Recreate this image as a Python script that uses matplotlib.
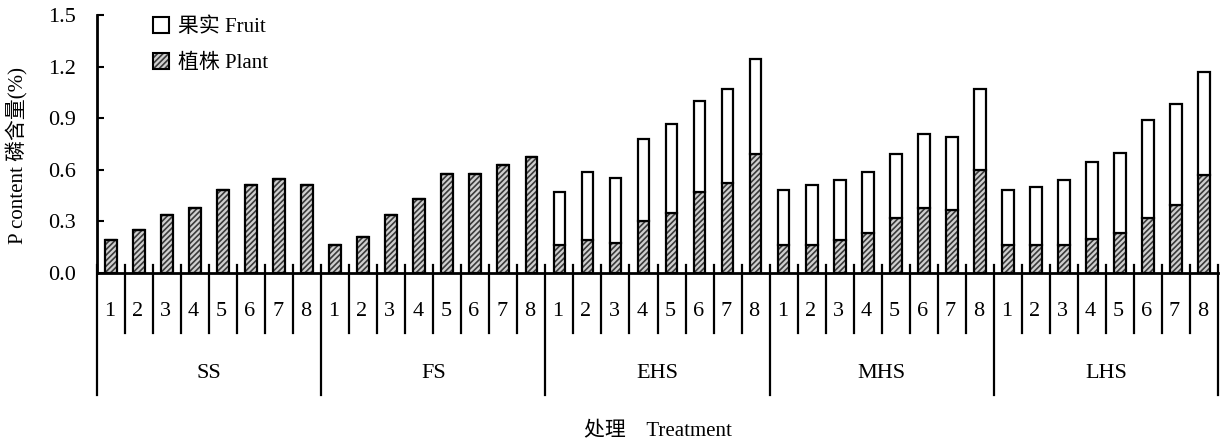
import matplotlib
matplotlib.use("Agg")
import matplotlib.pyplot as plt
from matplotlib.patches import Patch
from matplotlib.legend_handler import HandlerTuple
import matplotlib.transforms as mtransforms
import numpy as np

plt.rcParams['font.family'] = ['Liberation Serif', 'Noto Sans CJK SC', 'DejaVu Sans']
plt.rcParams['hatch.linewidth'] = 1.2

groups = ["SS", "FS", "EHS", "MHS", "LHS"]
sub_labels = ["1", "2", "3", "4", "5", "6", "7", "8"]

# plant P content (%), hatched lower segment
plant = [0.19, 0.25, 0.34, 0.38, 0.48, 0.51, 0.545, 0.51,
         0.16, 0.21, 0.34, 0.43, 0.575, 0.575, 0.63, 0.675,
         0.16, 0.19, 0.175, 0.305, 0.35, 0.47, 0.525, 0.69,
         0.16, 0.16, 0.19, 0.235, 0.32, 0.38, 0.365, 0.60,
         0.16, 0.16, 0.16, 0.20, 0.235, 0.32, 0.395, 0.57]
# total (plant + fruit)
total = [0.19, 0.25, 0.34, 0.38, 0.48, 0.51, 0.545, 0.51,
         0.16, 0.21, 0.34, 0.43, 0.575, 0.575, 0.63, 0.675,
         0.47, 0.585, 0.555, 0.78, 0.865, 1.0, 1.07, 1.245,
         0.48, 0.51, 0.54, 0.585, 0.69, 0.81, 0.79, 1.07,
         0.48, 0.50, 0.54, 0.645, 0.70, 0.89, 0.98, 1.17]
fruit = [t - p for t, p in zip(total, plant)]

W, H = 1227, 443
fig = plt.figure(figsize=(W / 100, H / 100), dpi=100)
left, right, top, bottom = 97, 1218, 15, 273
ax = fig.add_axes([left / W, (H - bottom) / H, (right - left) / W, (bottom - top) / H])

x = np.arange(len(plant))
bw = 0.42
hatch_face = '#d0d0d0'
hatch_col = '#3a3a3a'
ax.bar(x, plant, bw, color=hatch_face, edgecolor=hatch_col, hatch='//////', linewidth=0, zorder=2)
ax.bar(x, plant, bw, fill=False, edgecolor='black', linewidth=1.6, zorder=3)
ax.bar(x, fruit, bw, bottom=plant, color='white', edgecolor='black', linewidth=1.6, zorder=3)

ax.set_xlim(-0.5, len(plant) - 0.5)
ax.set_ylim(0, 1.5)
ax.set_yticks([0.0, 0.3, 0.6, 0.9, 1.2, 1.5])
ax.set_yticklabels([f"{v:.1f}" for v in [0.0, 0.3, 0.6, 0.9, 1.2, 1.5]])
ax.tick_params(axis='y', direction='in', length=5, width=1.5, labelsize=16, pad=15)
ax.set_xticks([])
for s in ['top', 'right']:
    ax.spines[s].set_visible(False)
ax.spines['left'].set_linewidth(2)
ax.spines['bottom'].set_linewidth(2)

trans = mtransforms.blended_transform_factory(ax.transData, ax.transAxes)
# separators between bars
for k in range(len(plant) + 1):
    xb = k - 0.5
    if k % 8 == 0:
        ax.plot([xb, xb], [0.031, -0.473], color='black', lw=1.6, transform=trans, clip_on=False)
    else:
        ax.plot([xb, xb], [0.031, -0.2326], color='black', lw=1.6, transform=trans, clip_on=False)
# sub labels
for i in range(len(plant)):
    ax.text(i - 0.05, -0.151, sub_labels[i % 8], transform=trans, ha='center', va='center', fontsize=16)
# group labels
for g, name in enumerate(groups):
    ax.text(g * 8 + 3.5, -0.388, name, transform=trans, ha='center', va='center', fontsize=16)

ax.text(0.5, -0.616, "处理    Treatment", transform=ax.transAxes, ha='center', va='center', fontsize=15)
ax.set_ylabel("P content 磷含量(%)", fontsize=15)
ax.yaxis.set_label_coords(-0.061, 0.457)

h_fruit = Patch(facecolor='white', edgecolor='black', linewidth=1.5)
h_pl1 = Patch(facecolor=hatch_face, edgecolor=hatch_col, hatch='//////', linewidth=0)
h_pl2 = Patch(fill=False, edgecolor='black', linewidth=1.5)
ax.legend([h_fruit, (h_pl1, h_pl2)], ["果实 Fruit", "植株 Plant"],
          handler_map={tuple: HandlerTuple(ndivide=1, pad=0)},
          loc='upper left', bbox_to_anchor=(0.033, 1.065), frameon=False,
          fontsize=15, handlelength=0.8, handleheight=0.8, handletextpad=0.4,
          labelspacing=0.75)

fig.savefig("out.png", dpi=100)
